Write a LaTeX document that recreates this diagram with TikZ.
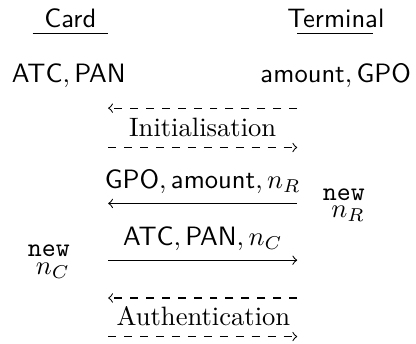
\documentclass[tikz,border=0pt]{standalone}
\usepackage{amsmath}
\usetikzlibrary{positioning}

\tikzset{
	msg/.style={->, thin},
	dmsg/.style={->, thin, dashed},
	stack/.style={align=right, inner sep=0pt, anchor=east},
}

\begin{document}
\begin{tikzpicture}
	\useasboundingbox (0, 0) rectangle (5.50, -4.54);

	% parties
	\node[anchor=base] (card) at (0.93, -0.36) {\textsf{Card}};
	\node[anchor=base] (term) at (4.44, -0.36) {\textsf{Terminal}};
	\coordinate (cardL) at (0.43, -0.44);
	\coordinate (cardR) at (1.43, -0.44);
	\coordinate (termL) at (3.93, -0.44);
	\coordinate (termR) at (4.93, -0.44);
	\draw (cardL) -- (cardR);
	\draw (termL) -- (termR);

	\node[anchor=base] (cardknow) at (0.91, -1.09) {$\mathsf{ATC}, \mathsf{PAN}$};
	\node[anchor=base] (termknow) at (4.44, -1.09) {$\mathsf{amount}, \mathsf{GPO}$};

	% message end points
	\foreach \y [count=\i] in {-1.43, -1.95, -2.69, -3.44, -3.94, -4.45} {
		\coordinate (c\i) at (1.43, \y);
		\coordinate (t\i) at (3.93, \y);
	}

	% initialisation
	\draw [dmsg] (t1) -- (c1);
	\draw [dmsg] (c2) -- (t2);
	\node[anchor=base] (init) at (2.68, -1.81) {Initialisation};

	% nonces
	\node[stack] (newR) at (4.83, -2.71) {\texttt{new}\\[-5.4pt]$n_R$};
	\draw [msg] (t3) -- node[midway, above] {$\mathsf{GPO}, \mathsf{amount}, n_R$} (c3);
	\node[stack] (newC) at (0.93, -3.46) {\texttt{new}\\[-5.4pt]$n_C$};
	\draw [msg] (c4) -- node[midway, above] {$\mathsf{ATC}, \mathsf{PAN}, n_C$} (t4);

	% authentication
	\draw [dmsg] (t5) -- (c5);
	\draw [dmsg] (c6) -- (t6);
	\node[anchor=base] (auth) at (2.69, -4.30) {Authentication};
\end{tikzpicture}
\end{document}
